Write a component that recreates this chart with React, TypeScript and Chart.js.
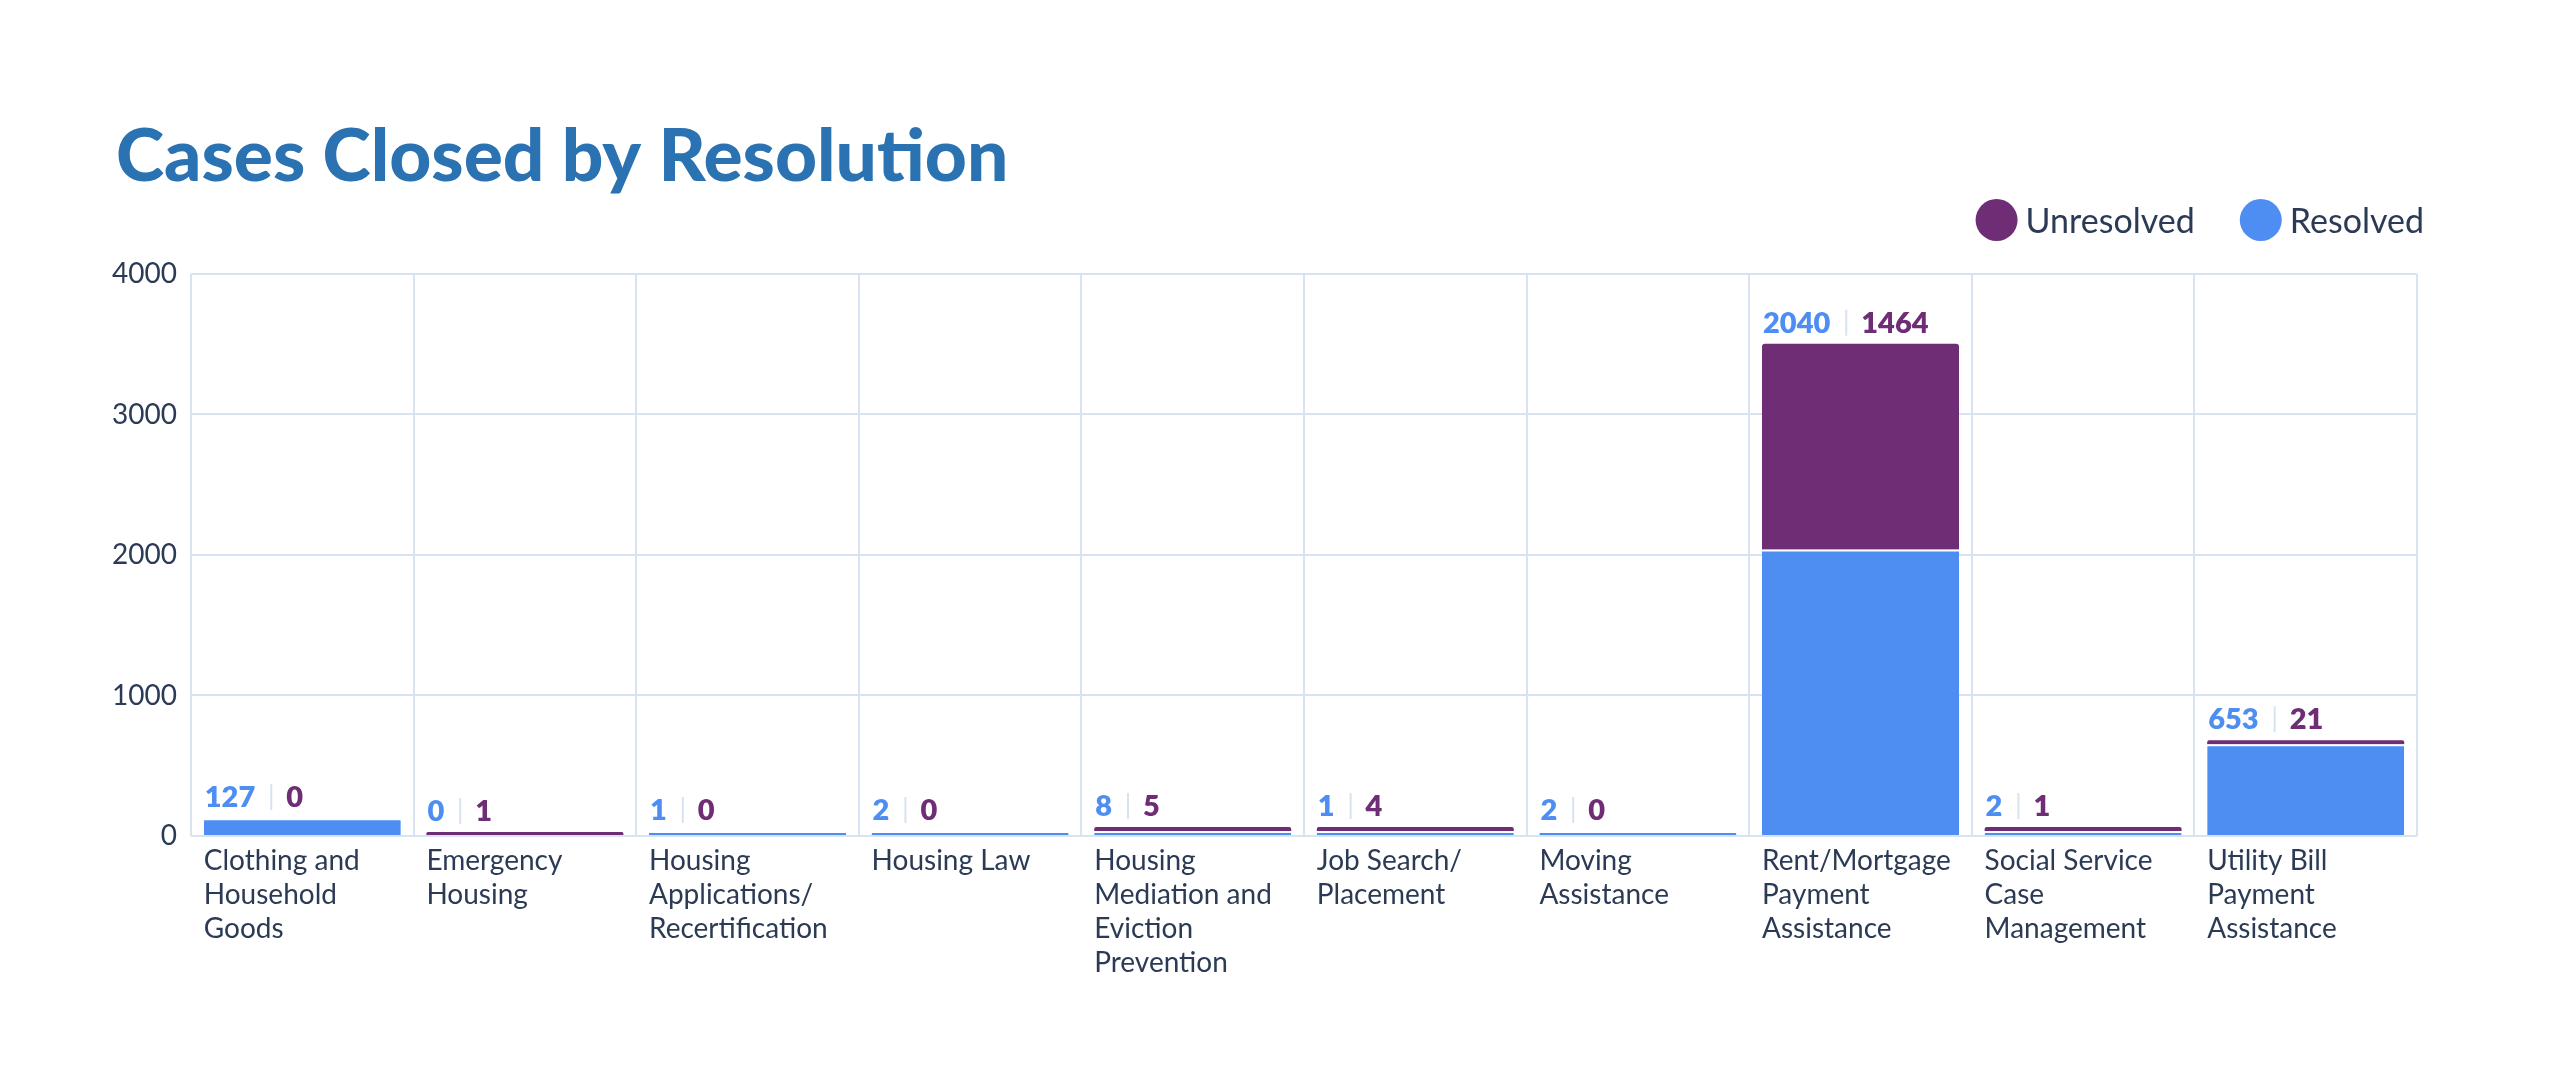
import React, { useEffect, useRef } from 'react';
import { Chart, registerables } from 'chart.js';

Chart.register(...registerables);

// ---------- data ----------
const chartTitle = 'Cases Closed by Resolution';
const categories: string[][] = [
  ['Clothing and', 'Household', 'Goods'],
  ['Emergency', 'Housing'],
  ['Housing', 'Applications/', 'Recertification'],
  ['Housing Law'],
  ['Housing', 'Mediation and', 'Eviction', 'Prevention'],
  ['Job Search/', 'Placement'],
  ['Moving', 'Assistance'],
  ['Rent/Mortgage', 'Payment', 'Assistance'],
  ['Social Service', 'Case', 'Management'],
  ['Utility Bill', 'Payment', 'Assistance'],
];
const seriesNames = ['Resolved', 'Unresolved'];
const resolved = [127, 0, 1, 2, 8, 1, 2, 2040, 2, 653];
const unresolved = [0, 1, 0, 0, 5, 4, 0, 1464, 1, 21];
const yTicks = [0, 1000, 2000, 3000, 4000];

// ---------- styles ----------
const BLUE = '#4e8ef3';
const PURPLE = '#6f2d75';
const TEXT = '#2c3b55';
const GRID = '#d7e3f1';
const TITLE = '#2a72b1';
const FONT = 'Lato';

const titlePlugin = {
  id: 'titleText',
  afterDraw(chart: any) {
    const { ctx } = chart;
    ctx.save();
    ctx.font = `900 73px ${FONT}`;
    ctx.fillStyle = TITLE;
    ctx.textAlign = 'left';
    ctx.textBaseline = 'middle';
    ctx.fillText(chartTitle, 116, 157);
    ctx.restore();
  },
};

const stackFix = {
  id: 'stackFix',
  afterDatasetsUpdate(chart: any) {
    const r = chart.getDatasetMeta(0).data;
    const u = chart.getDatasetMeta(1).data;
    resolved.forEach((rv, i) => {
      if (rv > 0 && unresolved[i] > 0 && r[i] && u[i]) {
        const d = u[i].base - r[i].y;
        if (d > 0) {
          u[i].base -= d;
          u[i].y -= d;
        }
      }
    });
  },
};

const valueLabels = {
  id: 'valueLabels',
  afterDatasetsDraw(chart: any) {
    const { ctx } = chart;
    const m0 = chart.getDatasetMeta(0).data;
    const m1 = chart.getDatasetMeta(1).data;
    ctx.save();
    ctx.font = `800 29px ${FONT}`;
    ctx.textBaseline = 'alphabetic';
    ctx.textAlign = 'left';
    categories.forEach((_, i) => {
      const els: any[] = [];
      if (resolved[i] > 0) els.push(m0[i]);
      if (unresolved[i] > 0) els.push(m1[i]);
      if (!els.length) return;
      const top = Math.min(...els.map((e) => Math.min(e.y, e.base)));
      const left = els[0].x - els[0].width / 2;
      const base = top - 11;
      let x = left + 1;
      const a = String(resolved[i]);
      ctx.fillStyle = BLUE;
      ctx.fillText(a, x, base);
      x += ctx.measureText(a).width + 16;
      ctx.strokeStyle = GRID;
      ctx.lineWidth = 2;
      ctx.beginPath();
      ctx.moveTo(x, base - 23);
      ctx.lineTo(x, base + 3);
      ctx.stroke();
      x += 15;
      ctx.fillStyle = PURPLE;
      ctx.fillText(String(unresolved[i]), x, base);
    });
    ctx.restore();
  },
};

const customLegend = {
  id: 'customLegend',
  afterDraw(chart: any) {
    const { ctx, chartArea } = chart;
    const items = chart.data.datasets
      .map((d: any) => ({ text: d.label, color: d.backgroundColor }))
      .reverse();
    ctx.save();
    ctx.font = `34px ${FONT}`;
    ctx.textBaseline = 'alphabetic';
    ctx.textAlign = 'left';
    const baseY = chartArea.top - 41;
    const cy = chartArea.top - 54;
    let xEnd = chartArea.right + 7;
    for (let k = items.length - 1; k >= 0; k--) {
      const w = ctx.measureText(items[k].text).width;
      const tx = xEnd - w;
      ctx.fillStyle = TEXT;
      ctx.fillText(items[k].text, tx, baseY);
      const cx = tx - 29;
      ctx.beginPath();
      ctx.arc(cx, cy, 21, 0, Math.PI * 2);
      ctx.fillStyle = items[k].color;
      ctx.fill();
      xEnd = cx - 66;
    }
    ctx.restore();
  },
};

export default function App() {
  const ref = useRef<HTMLCanvasElement | null>(null);

  useEffect(() => {
    if (!ref.current) return;
    const chart = new Chart(ref.current, {
      type: 'bar',
      data: {
        labels: categories,
        datasets: [
          {
            label: seriesNames[0],
            data: resolved.map((v) => (v === 0 ? null : v)),
            backgroundColor: BLUE,
            borderColor: '#ffffff',
            borderWidth: { top: 2, left: 0, right: 0, bottom: 0 },
            borderRadius: (c: any) => (unresolved[c.dataIndex] > 0 ? 0 : 3),
            minBarLength: 5,
            barPercentage: 0.885,
            categoryPercentage: 1,
          },
          {
            label: seriesNames[1],
            data: unresolved.map((v) => (v === 0 ? null : v)),
            backgroundColor: PURPLE,
            borderWidth: 0,
            borderRadius: 3,
            minBarLength: 4,
            barPercentage: 0.885,
            categoryPercentage: 1,
          },
        ],
      },
      options: {
        responsive: false,
        animation: false,
        devicePixelRatio: 1,
        layout: { padding: { left: 95, right: 143, top: 274, bottom: 94 } },
        plugins: {
          legend: { display: false },
          tooltip: { enabled: false },
          title: { display: false },
        },
        scales: {
          x: {
            stacked: true,
            grid: { color: GRID, lineWidth: 2, drawTicks: false, offset: true },
            border: { display: false },
            ticks: {
              color: TEXT,
              font: { family: FONT, size: 28, lineHeight: 1.2143 },
              autoSkip: false,
              maxRotation: 0,
              minRotation: 0,
              align: 'start',
              labelOffset: -98.5,
              padding: 8,
            },
          },
          y: {
            stacked: true,
            min: yTicks[0],
            max: yTicks[yTicks.length - 1],
            afterFit: (scale: any) => {
              scale.width = 96;
            },
            grid: { color: GRID, lineWidth: 2, drawTicks: false },
            border: { display: false },
            ticks: {
              stepSize: yTicks[1] - yTicks[0],
              color: TEXT,
              font: { family: FONT, size: 28 },
              padding: 14,
              callback: (v: any) => String(v),
            },
          },
        },
      },
      plugins: [stackFix, valueLabels, customLegend, titlePlugin],
    } as any);
    return () => chart.destroy();
  }, []);

  return (
    <div
      style={{
        position: 'fixed',
        left: 0,
        top: 0,
        width: 2560,
        height: 1082,
        background: '#ffffff',
      }}
    >
      <canvas ref={ref} width={2560} height={1082} style={{ display: 'block' }} />
    </div>
  );
}
